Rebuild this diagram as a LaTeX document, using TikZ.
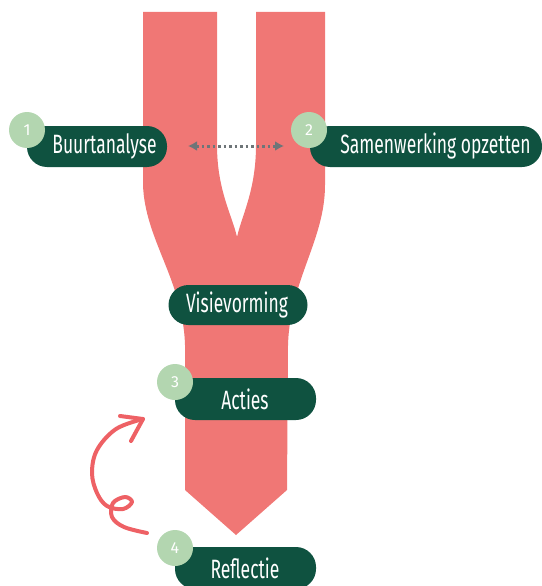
\documentclass[tikz,border=0pt]{standalone}
\usepackage{fontspec}
\setmainfont{Fira Sans}
\usetikzlibrary{arrows.meta}
\definecolor{pinkband}{HTML}{F07775}
\definecolor{darkgreen}{HTML}{0F5240}
\definecolor{lightgreen}{HTML}{B3D6B0}
\definecolor{arrowgray}{HTML}{6E7578}
\definecolor{curlred}{HTML}{EE6165}
\newcommand{\lbltxt}[1]{\scalebox{0.66}[1]{#1}}
\tikzset{
  pill/.style={fill=darkgreen, rounded corners=20pt, minimum height=41pt, inner sep=0pt},
  pilltext/.style={text=white, font=\fontsize{26.5}{28}\selectfont, inner sep=0pt},
  numcirc/.style={circle, fill=lightgreen, minimum size=36pt, inner sep=0pt, text=white, font=\fontsize{16}{16}\selectfont},
  dotarrow/.style={arrowgray, line width=3pt, dash pattern=on 2.5pt off 3pt, {Latex[length=9pt,width=10pt]}-{Latex[length=9pt,width=10pt]}},
  curl/.style={curlred, line width=4pt, line cap=round, line join=round}
}
\begin{document}
\begin{tikzpicture}[x=1pt,y=-1pt]
\useasboundingbox (0,0) rectangle (541,586);
% pink band
\fill[pinkband] (143,12) -- (217,12) -- (217,145)
  .. controls (217,190) and (232,215) .. (237,237)
  .. controls (242,215) and (256,190) .. (256,145)
  -- (256,12) -- (325,12) -- (325,185)
  .. controls (325,240) and (290,280) .. (288,345)
  -- (287,490) -- (236,535) -- (185,490) -- (185,345)
  .. controls (183,280) and (145,240) .. (143,185) -- cycle;
% pills
\node[pill, minimum width=140pt] (buurt) at (97,146.5) {};
\node[pill, minimum width=232pt] (samen) at (426,146.5) {};
\node[pill, minimum width=139pt, minimum height=40pt] (visie) at (238,305) {};
\node[pill, minimum width=141pt, minimum height=42pt] (acties) at (245.5,399) {};
\node[pill, minimum width=141pt, minimum height=42pt] (reflectie) at (245.5,568) {};
% texts
\node[pilltext] (tbuurt) at (104.5,146) {\lbltxt{Buurtanalyse}};
\node[pilltext] (tsamen) at (435.5,146) {\lbltxt{Samenwerking opzetten}};
\node[pilltext] (tvisie) at (237,305) {\lbltxt{Visievorming}};
\node[pilltext] (tacties) at (245,399) {\lbltxt{Acties}};
\node[pilltext] (treflectie) at (245,568) {\lbltxt{Reflectie}};
% number circles
\node[numcirc] (n1) at (27,130) {1};
\node[numcirc] (n2) at (309,130) {2};
\node[numcirc] (n3) at (175,382) {3};
\node[numcirc] (n4) at (175,548) {4};
% dotted arrow
\coordinate (da) at (188,146);
\coordinate (db) at (284,146);
\draw[dotarrow] (da) -- (db);
% curly arrow
\coordinate (cs) at (147,533);
\coordinate (ce) at (143,419);
\draw[curl] plot[smooth, tension=0.6] coordinates {(cs) (124,527) (112,517) (113,503) (125,497) (132,502) (123,509) (107,506) (97,493) (92,473) (97,450) (116,429) (ce)};
\draw[curl] (120,416) -- (ce) -- (131,441);
\end{tikzpicture}
\end{document}
